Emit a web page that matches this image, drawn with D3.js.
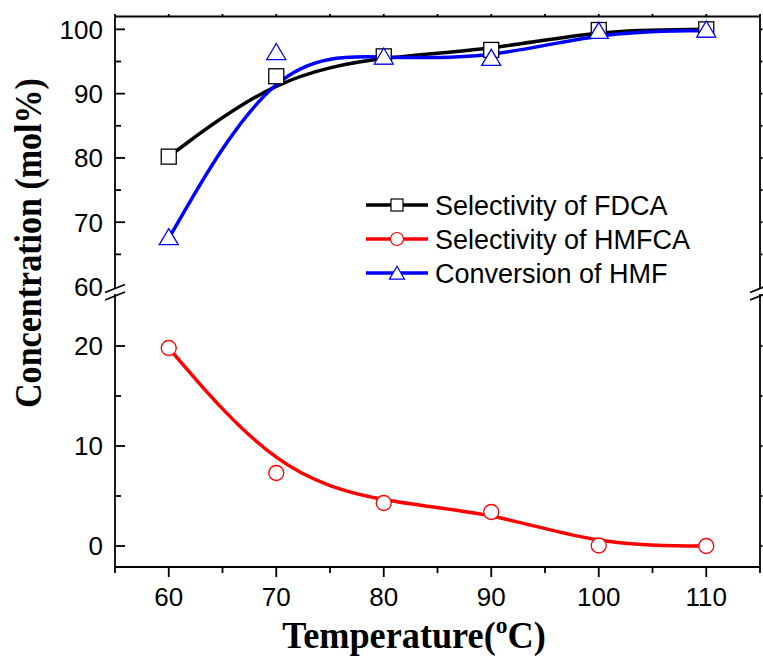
<!DOCTYPE html>
<html><head><meta charset="utf-8">
<script src="https://cdn.jsdelivr.net/npm/d3@7"></script>
<style>html,body{margin:0;padding:0;background:#fff;}svg{display:block;}</style>
</head><body>
<svg id="c" width="763" height="659"></svg>
<script>
const temps = [60, 70, 80, 90, 100, 110];
const fdcaSel = [80.2, 92.7, 95.8, 96.8, 99.9, 100.0];
const hmfcaSel = [19.8, 7.3, 4.3, 3.4, 0.05, 0.0];
const hmfConv = [67.5, 96.3, 95.6, 95.4, 99.6, 99.8];
const xTicks = [60, 70, 80, 90, 100, 110];
const upperTicks = [60, 70, 80, 90, 100];
const lowerTicks = [0, 10, 20];
const seriesNames = ["Selectivity of FDCA", "Selectivity of HMFCA", "Conversion of HMF"];

const svg = d3.select("#c");
const L = 115, R = 760, T = 16.5, B = 567;
const upBot = 286.5, upEnd = 288.5, loStart = 295;

const x = d3.scaleLinear().domain([55, 115]).range([L, R]);
const yU = d3.scaleLinear().domain([60, 102]).range([upBot, T]);
const yL = d3.scaleLinear().domain([-2.1, 25.1]).range([B, loStart]);

const g = svg.append("g");
const tickFont = "'Liberation Sans', Arial, sans-serif";
const serif = "'Liberation Serif', 'Times New Roman', serif";

// frame
const frame = g.append("g").attr("stroke", "#000").attr("stroke-width", 1.8).attr("fill", "none");
frame.append("line").attr("x1", L).attr("x2", R).attr("y1", T).attr("y2", T);
frame.append("line").attr("x1", L).attr("x2", R).attr("y1", B).attr("y2", B);
[L, R].forEach(xx => {
  frame.append("line").attr("x1", xx).attr("x2", xx).attr("y1", T).attr("y2", upEnd);
  frame.append("line").attr("x1", xx).attr("x2", xx).attr("y1", loStart - 1).attr("y2", B);
  frame.append("line").attr("x1", xx - 10).attr("x2", xx + 10).attr("y1", upEnd + 4).attr("y2", upEnd - 4);
  frame.append("line").attr("x1", xx - 10).attr("x2", xx + 10).attr("y1", loStart + 5).attr("y2", loStart - 3);
});

const xMinor = d3.range(55, 116, 5);
const tk = g.append("g").attr("stroke", "#000").attr("stroke-width", 1.8);
xMinor.forEach(v => {
  const major = xTicks.includes(v);
  tk.append("line").attr("x1", x(v)).attr("x2", x(v)).attr("y1", B).attr("y2", B + (major ? 10 : 6));
  tk.append("line").attr("x1", x(v)).attr("x2", x(v)).attr("y1", T).attr("y2", T - 2.5);
});
g.append("g").selectAll("text").data(xTicks).join("text")
  .attr("x", d => x(d)).attr("y", 606).attr("text-anchor", "middle")
  .attr("font-family", tickFont).attr("font-size", 26).text(d => d);

const upMinor = d3.range(65, 101, 5);
upMinor.forEach(v => {
  const major = upperTicks.includes(v);
  tk.append("line").attr("x1", L).attr("x2", L + (major ? 10 : 6)).attr("y1", yU(v)).attr("y2", yU(v));
  tk.append("line").attr("x1", R).attr("x2", R + 2.5).attr("y1", yU(v)).attr("y2", yU(v));
});
const loMinor = d3.range(0, 21, 5);
loMinor.forEach(v => {
  const major = lowerTicks.includes(v);
  tk.append("line").attr("x1", L).attr("x2", L + (major ? 10 : 6)).attr("y1", yL(v)).attr("y2", yL(v));
  tk.append("line").attr("x1", R).attr("x2", R + 2.5).attr("y1", yL(v)).attr("y2", yL(v));
});
g.append("g").selectAll("text").data(upperTicks).join("text")
  .attr("x", 103).attr("y", d => yU(d)).attr("dy", "0.36em").attr("text-anchor", "end")
  .attr("font-family", tickFont).attr("font-size", 26).text(d => d);
g.append("g").selectAll("text").data(lowerTicks).join("text")
  .attr("x", 103).attr("y", d => yL(d)).attr("dy", "0.36em").attr("text-anchor", "end")
  .attr("font-family", tickFont).attr("font-size", 26).text(d => d);

// axis titles
const xt = svg.append("g").attr("transform", "translate(414,648) scale(0.98,1)")
  .append("text").attr("text-anchor", "middle")
  .attr("font-family", serif).attr("font-weight", "bold").attr("font-size", 37);
xt.append("tspan").text("Temperature(");
xt.append("tspan").attr("font-size", 24).attr("dy", -15).text("o");
xt.append("tspan").attr("dy", 15).text("C)");

svg.append("g").attr("transform", "translate(41,243) rotate(-90) scale(0.92,1)")
  .append("text").attr("text-anchor", "middle")
  .attr("font-family", serif).attr("font-weight", "bold")
  .attr("font-size", 37).text("Concentration (mol%)");

// lines
const data = temps.map((t, i) => ({t, f: fdcaSel[i], h: hmfcaSel[i], c: hmfConv[i]}));
const lf = d3.line().x(d => x(d.t)).y(d => yU(d.f)).curve(d3.curveBasis);
const lc = d3.line().x(d => x(d.t)).y(d => yU(d.c)).curve(d3.curveBasis);
const lh = d3.line().x(d => x(d.t)).y(d => yL(d.h)).curve(d3.curveBasis);
g.append("path").datum(data).attr("d", lf).attr("fill", "none").attr("stroke", "#000").attr("stroke-width", 3.5);
g.append("path").datum(data).attr("d", lc).attr("fill", "none").attr("stroke", "#0000ff").attr("stroke-width", 3.5);
g.append("path").datum(data).attr("d", lh).attr("fill", "none").attr("stroke", "#ff0000").attr("stroke-width", 3.5);

const sq = 15;
function triPath(cx, cy, w, h) {
  return `M${cx},${cy - h * 0.6} L${cx + w / 2},${cy + h * 0.4} L${cx - w / 2},${cy + h * 0.4} Z`;
}
g.append("g").selectAll("rect").data(data).join("rect")
  .attr("x", d => x(d.t) - sq / 2).attr("y", d => yU(d.f) - sq / 2).attr("width", sq).attr("height", sq)
  .attr("fill", "#fff").attr("stroke", "#000").attr("stroke-width", 1.3);
g.append("g").selectAll("path").data(data).join("path")
  .attr("d", d => triPath(x(d.t), yU(d.c), 19, 16))
  .attr("fill", "#fff").attr("stroke", "#0000ff").attr("stroke-width", 1.3);
g.append("g").selectAll("circle").data(data).join("circle")
  .attr("cx", d => x(d.t)).attr("cy", d => yL(d.h)).attr("r", 7.5)
  .attr("fill", "#fff").attr("stroke", "#ff0000").attr("stroke-width", 1.3);

// legend
const legY = [205, 239, 273];
const colors = ["#000", "#ff0000", "#0000ff"];
const lg = svg.append("g");
seriesNames.forEach((name, i) => {
  const yy = legY[i];
  lg.append("line").attr("x1", 366).attr("x2", 428).attr("y1", yy).attr("y2", yy)
    .attr("stroke", colors[i]).attr("stroke-width", 3.5);
  if (i === 0) lg.append("rect").attr("x", 397 - 6).attr("y", yy - 6).attr("width", 12).attr("height", 12)
    .attr("fill", "#fff").attr("stroke", "#000").attr("stroke-width", 1.2);
  if (i === 1) lg.append("circle").attr("cx", 397).attr("cy", yy).attr("r", 6.5)
    .attr("fill", "#fff").attr("stroke", "#ff0000").attr("stroke-width", 1.2);
  if (i === 2) lg.append("path").attr("d", triPath(397, yy + 1, 15, 13))
    .attr("fill", "#fff").attr("stroke", "#0000ff").attr("stroke-width", 1.2);
  lg.append("text").attr("x", 435).attr("y", yy + 10).attr("font-family", tickFont)
    .attr("font-size", 27).text(name);
});
</script>
</body></html>
